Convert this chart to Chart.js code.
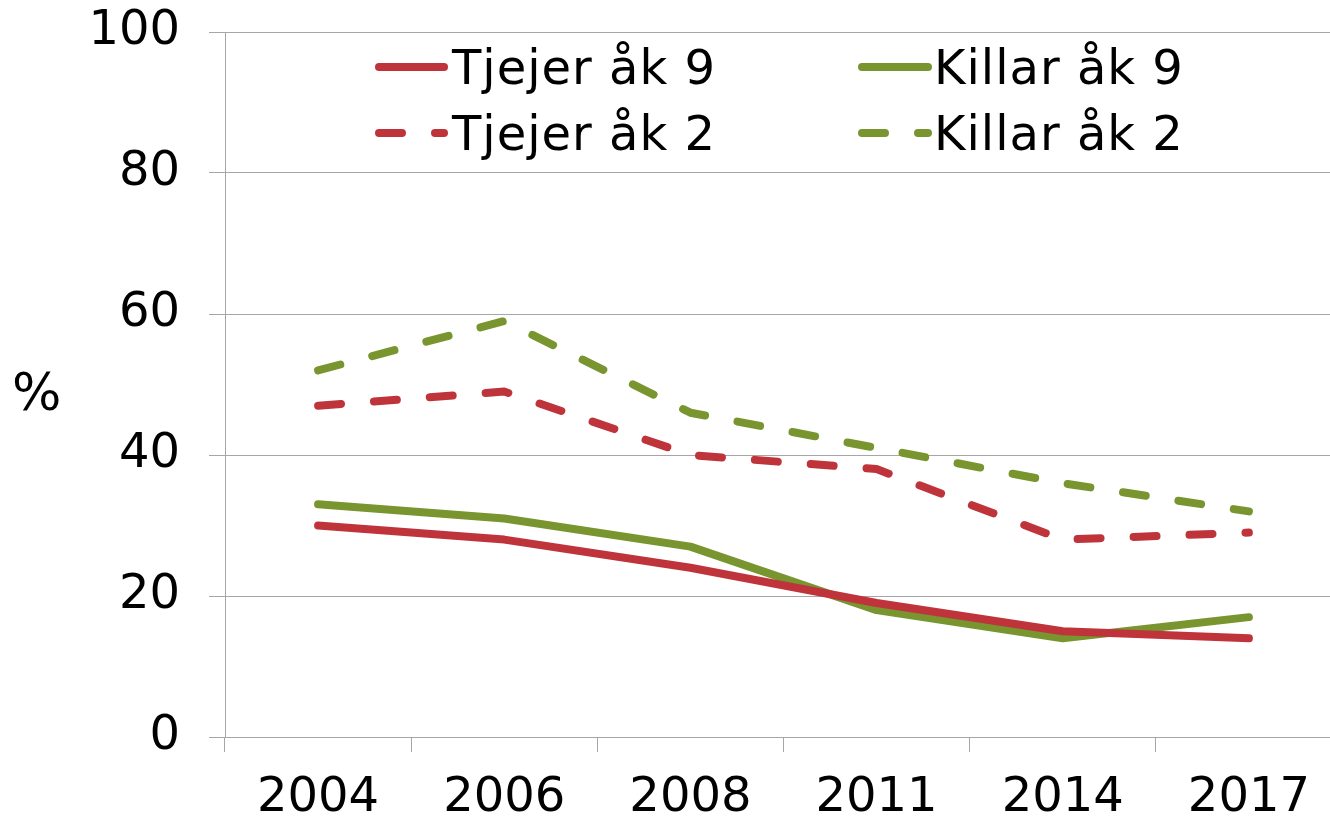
<!DOCTYPE html>
<html>
<head>
<meta charset="utf-8">
<script src="https://cdn.jsdelivr.net/npm/chart.js@4.4.1/dist/chart.umd.min.js"></script>
<style>
  html, body { margin: 0; padding: 0; background: #fff; overflow: hidden; width: 1330px; height: 820px; }
  #wrap { position: absolute; left: 0; top: 0; width: 1342px; height: 820px; }
</style>
</head>
<body>
<div id="wrap"><canvas id="c" width="1342" height="820"></canvas></div>
<script>
const years = ['2004', '2006', '2008', '2011', '2014', '2017'];
const tjejerAk9 = [30, 28, 24, 19, 15, 14];
const killarAk9 = [33, 31, 27, 18, 14, 17];
const tjejerAk2 = [47, 49, 40, 38, 28, 29];
const killarAk2 = [52, 59, 46, 41, 36, 32];
const yTicks = [0, 20, 40, 60, 80, 100];
const seriesNames = ['Tjejer åk 9', 'Killar åk 9', 'Tjejer åk 2', 'Killar åk 2'];
const yUnit = '%';

const RED = '#BF343B';
const GREEN = '#78952F';
const GRID = '#A6A6A6';
const FONT = '"DejaVu Sans", Verdana, sans-serif';
const DASH = [23, 33];

const legendPlugin = {
  id: 'customLegend',
  afterDraw(chart) {
    const ctx = chart.ctx;
    const ds = chart.data.datasets;
    const cols = [{lx1: 379, lx2: 444, tx: 452}, {lx1: 862, lx2: 928, tx: 934}];
    const rows = [{ly: 67, ty: 84}, {ly: 133, ty: 150}];
    ctx.save();
    ds.forEach((d, i) => {
      const col = cols[i % 2];
      const row = rows[Math.floor(i / 2)];
      ctx.beginPath();
      ctx.strokeStyle = d.borderColor;
      ctx.lineWidth = d.borderWidth;
      ctx.lineCap = 'round';
      ctx.setLineDash(d.borderDash || []);
      ctx.moveTo(col.lx1, row.ly);
      ctx.lineTo(col.lx2, row.ly);
      ctx.stroke();
      ctx.setLineDash([]);
      ctx.fillStyle = '#000';
      ctx.font = '48px ' + FONT;
      ctx.textAlign = 'left';
      ctx.textBaseline = 'alphabetic';
      try { ctx.letterSpacing = '1px'; } catch (e) {}
      ctx.fillText(d.label, col.tx, row.ty);
      try { ctx.letterSpacing = '0px'; } catch (e) {}
    });
    // y unit label (horizontal)
    ctx.fillStyle = '#000';
    ctx.font = '52px ' + FONT;
    ctx.textAlign = 'left';
    ctx.textBaseline = 'alphabetic';
    ctx.fillText(yUnit, 12, 410);
    ctx.restore();
  }
};

function mk(label, data, color, dashed) {
  return {
    label, data,
    borderColor: color,
    backgroundColor: color,
    borderWidth: 8,
    borderDash: dashed ? DASH : [],
    borderCapStyle: 'round',
    borderJoinStyle: 'round',
    pointRadius: 0,
    pointHoverRadius: 0,
    tension: 0,
    fill: false
  };
}

new Chart(document.getElementById('c'), {
  type: 'line',
  data: {
    labels: years,
    datasets: [
      mk(seriesNames[0], tjejerAk9, RED, false),
      mk(seriesNames[1], killarAk9, GREEN, false),
      mk(seriesNames[2], tjejerAk2, RED, true),
      mk(seriesNames[3], killarAk2, GREEN, true)
    ]
  },
  options: {
    responsive: false,
    animation: false,
    devicePixelRatio: 1,
    layout: { padding: { top: 32, left: 0, right: 0, bottom: 0 } },
    plugins: { legend: { display: false }, tooltip: { enabled: false } },
    scales: {
      x: {
        type: 'category',
        offset: true,
        grid: { offset: true, drawOnChartArea: false, drawTicks: true, tickLength: 15, color: GRID, lineWidth: 1 },
        border: { display: true, color: GRID, width: 1 },
        ticks: { color: '#000', font: { family: FONT, size: 48, lineHeight: 1.2 }, padding: 18, maxRotation: 0, autoSkip: false },
        afterFit(scale) { scale.height = 83; scale.paddingLeft = 0; scale.paddingRight = 0; }
      },
      y: {
        min: 0, max: 100,
        afterBuildTicks(scale) { scale.ticks = yTicks.map(v => ({ value: v })); },
        grid: { color: GRID, lineWidth: 1, drawTicks: true, tickLength: 16 },
        border: { display: true, color: GRID, width: 1 },
        ticks: { color: '#000', font: { family: FONT, size: 48, lineHeight: 1.2 }, padding: 29 },
        afterFit(scale) { scale.width = 225; scale.paddingTop = 0; scale.paddingBottom = 0; }
      }
    }
  },
  plugins: [legendPlugin]
});
</script>
</body>
</html>
